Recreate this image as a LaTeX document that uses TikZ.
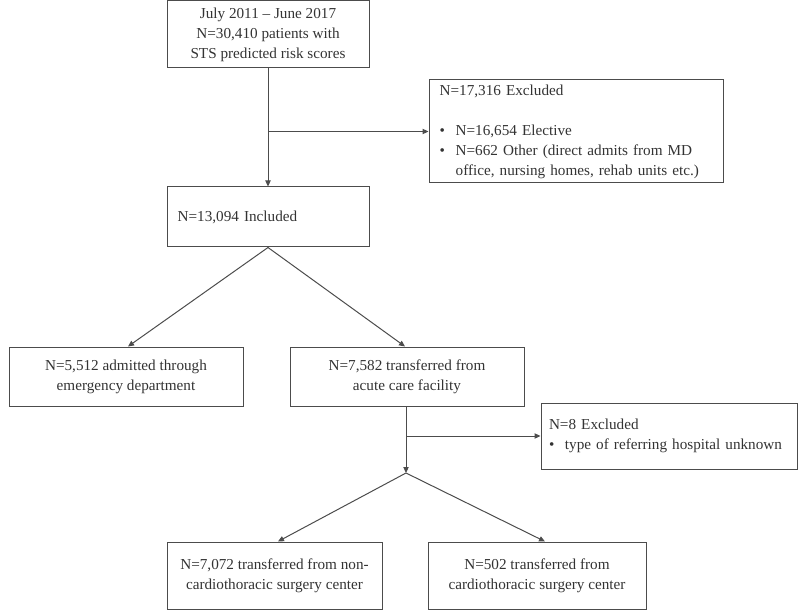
\documentclass[tikz,border=0pt]{standalone}
\usepackage{fontspec}
\setmainfont{Liberation Serif}
\usetikzlibrary{arrows.meta}

\newcommand{\blt}{\makebox[12pt][l]{\textbullet}}
\newcommand{\hng}{\hspace*{12pt}}

\tikzset{
  box/.style={draw=black!70, line width=0.75pt, text=black!80,
    font=\fontsize{11.4}{15}\selectfont, inner sep=0pt, align=center},
  leftbox/.style={box, inner xsep=8pt, align=left},
  link/.style={draw=black!70, line width=0.75pt},
  arr/.style={link, -{Triangle[length=4.5pt,width=4pt]}},
}

\begin{document}
\begin{tikzpicture}[x=0.75pt,y=-0.75pt]
    \useasboundingbox (0,0) rectangle (800,613);

    % boxes
    \node[box, minimum width=151.5pt, minimum height=50.25pt] (start) at (268,34.5)
        {July 2011 -- June 2017\\N=30,410 patients with\\STS predicted risk scores};
    \node[leftbox, text width=204.5pt, minimum height=77.25pt] (excla) at (576,131.5)
        {N=17,316 Excluded\\\mbox{}\\\blt N=16,654 Elective\\\blt N=662 Other (direct admits from MD\\\hng office, nursing homes, rehab units etc.)};
    \node[leftbox, text width=135.5pt, minimum height=45pt] (incl) at (268,217)
        {N=13,094 Included};
    \node[box, minimum width=175.5pt, minimum height=44.25pt] (emerg) at (126,376.5)
        {N=5,512 admitted through\\emergency department};
    \node[box, minimum width=175.5pt, minimum height=44.25pt] (trans) at (407,376.5)
        {N=7,582 transferred from\\acute care facility};
    \node[leftbox, inner xsep=6pt, text width=180pt, minimum height=49.5pt] (exclb) at (669,436)
        {N=8 Excluded\\\blt type of referring hospital unknown};
    \node[box, minimum width=161.25pt, minimum height=50.25pt] (noncts) at (274.5,575.5)
        {N=7,072 transferred from non-\\cardiothoracic surgery center};
    \node[box, minimum width=163.5pt, minimum height=50.25pt] (cts) at (537,575.5)
        {N=502 transferred from\\cardiothoracic surgery center};

    % connectors
    \coordinate (split) at (trans.south |- 0,473);
    \draw[arr] (start.south) -- (incl.north);
    \draw[arr] (start.south |- excla.west) -- (excla.west);
    \draw[arr] (incl.south) -- ([xshift=1.5pt]emerg.north);
    \draw[arr] (incl.south) -- ([xshift=-1.5pt]trans.north);
    \draw[arr] ([xshift=-0.75pt]trans.south) -- ([xshift=-0.75pt]split);
    \draw[arr] ([xshift=-0.75pt]trans.south |- exclb.west) -- (exclb.west);
    \draw[arr] ([xshift=-0.75pt]split) -- ([xshift=2.6pt]noncts.north);
    \draw[arr] ([xshift=-0.75pt]split) -- ([xshift=6pt]cts.north);
\end{tikzpicture}
\end{document}
